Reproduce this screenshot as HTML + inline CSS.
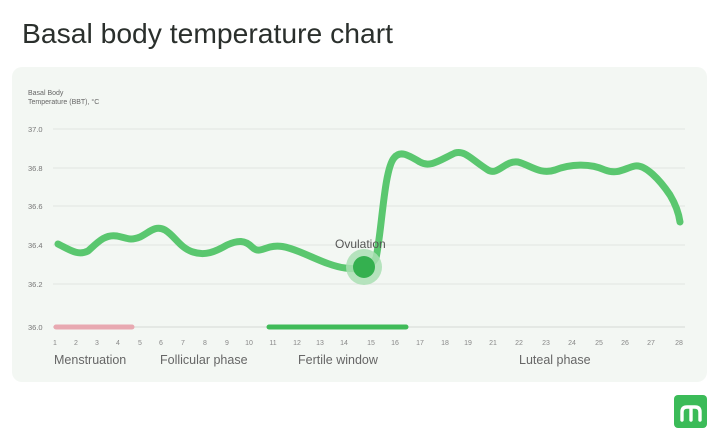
<!DOCTYPE html>
<html><head><style>
body{margin:0;width:720px;height:441px;background:#fff;overflow:hidden;font-family:"Liberation Sans",sans-serif}
</style></head><body>
<svg width="720" height="441" viewBox="0 0 720 441" xmlns="http://www.w3.org/2000/svg" font-family="Liberation Sans, sans-serif">
<text x="22" y="43" font-size="27.5" fill="#2a2f2c" textLength="371" lengthAdjust="spacingAndGlyphs">Basal body temperature chart</text>
<rect x="12" y="67" width="695" height="315" rx="10" fill="#f3f7f3"/>
<text x="28" y="95" font-size="7" fill="#666">Basal Body</text>
<text x="28" y="104" font-size="7" fill="#666">Temperature (BBT), °C</text>
<g stroke="#e2e6e2" stroke-width="1">
<line x1="53" x2="685" y1="129" y2="129"/><line x1="53" x2="685" y1="168" y2="168"/>
<line x1="53" x2="685" y1="206" y2="206"/><line x1="53" x2="685" y1="245" y2="245"/>
<line x1="53" x2="685" y1="284" y2="284"/><line x1="53" x2="685" y1="327" y2="327" stroke="#d6dad6"/>
</g>
<g font-size="7.5" fill="#777">
<text x="28" y="132">37.0</text><text x="28" y="171">36.8</text><text x="28" y="209">36.6</text>
<text x="28" y="248">36.4</text><text x="28" y="287">36.2</text><text x="28" y="330">36.0</text>
</g>
<line x1="56" x2="132" y1="327" y2="327" stroke="#e8a9b1" stroke-width="5" stroke-linecap="round"/>
<line x1="269" x2="406" y1="327" y2="327" stroke="#3fbb58" stroke-width="5" stroke-linecap="round"/>
<g font-size="7" fill="#888" text-anchor="middle">
<text x="55" y="345">1</text><text x="76" y="345">2</text><text x="97" y="345">3</text><text x="118" y="345">4</text><text x="140" y="345">5</text><text x="161" y="345">6</text><text x="183" y="345">7</text><text x="205" y="345">8</text><text x="227" y="345">9</text><text x="249" y="345">10</text><text x="273" y="345">11</text><text x="297" y="345">12</text><text x="320" y="345">13</text><text x="344" y="345">14</text><text x="371" y="345">15</text><text x="395" y="345">16</text><text x="420" y="345">17</text><text x="445" y="345">18</text><text x="468" y="345">19</text><text x="493" y="345">21</text><text x="519" y="345">22</text><text x="546" y="345">23</text><text x="572" y="345">24</text><text x="599" y="345">25</text><text x="625" y="345">26</text><text x="651" y="345">27</text><text x="679" y="345">28</text>
</g>
<g font-size="12.5" fill="#666">
<text x="54" y="364">Menstruation</text><text x="160" y="364">Follicular phase</text>
<text x="298" y="364">Fertile window</text><text x="519" y="364">Luteal phase</text>
</g>
<path d="M58,244 C70,250 78,256 88,251 C98,242 105,234 117,236 C127,238 130,241 140,237 C150,232 155,225 165,230 C175,236 180,248 193,252 C205,256 215,252 227,245 C238,240 245,240 252,247 C258,253 262,249 270,247 C278,245 285,246 300,252 C315,258 330,266 345,268 C360,270 370,268 376,258 C382,230 384,170 394,158 C400,150 408,155 420,162 C430,168 440,160 455,153 C465,150 472,160 488,170 C498,176 505,160 518,162 C530,165 540,175 555,170 C570,164 590,163 605,170 C618,175 625,168 635,166 C645,164 660,180 670,195 C676,205 679,215 680,222" fill="none" stroke="#5ac76f" stroke-width="7" stroke-linecap="round" stroke-linejoin="round"/>
<circle cx="364" cy="267" r="18" fill="#a9dfb3" opacity="0.85"/>
<circle cx="364" cy="267" r="11" fill="#34b04f"/>
<text x="335" y="248" font-size="12" fill="#555">Ovulation</text>
<rect x="674" y="395" width="33" height="33" rx="4" fill="#3bbb58"/>
<path d="M682,420 V412 Q682,407 687,407 H695 Q700,407 700,412 V420 M691,408 V420" fill="none" stroke="#fff" stroke-width="3.4" stroke-linecap="round"/>
</svg>
</body></html>
